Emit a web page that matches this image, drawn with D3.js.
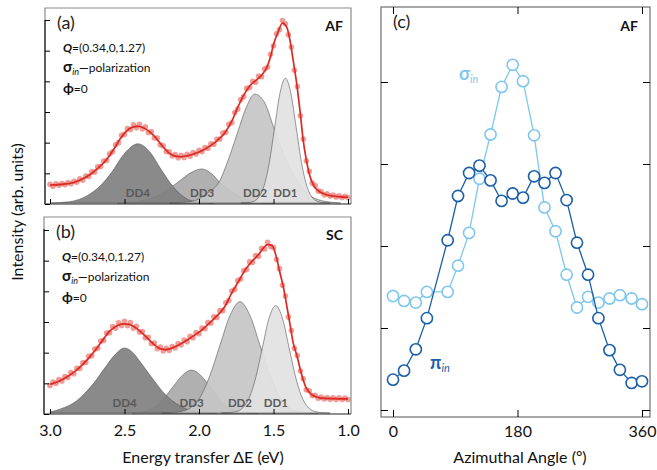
<!DOCTYPE html>
<html>
<head>
<meta charset="utf-8">
<script src="https://cdn.jsdelivr.net/npm/d3@7"></script>
<style>
  body { margin: 0; background: #fff; }
  svg { font-family: Lato, "Open Sans", sans-serif; }
</style>
</head>
<body>
<svg id="chart" width="657" height="470"></svg>
<script>
// ---- data ----
const energyTicks = [3.0, 2.5, 2.0, 1.5, 1.0];
const intensityTicks = [0, 1, 2, 3, 4, 5, 6];
const angleTicks = [0, 180, 360];
const angleYTicks = [0, 1, 2, 3, 4];

const dotEnergy = [
  3.00, 2.98, 2.96, 2.94, 2.92, 2.90, 2.88, 2.86, 2.84, 2.82,
  2.80, 2.78, 2.76, 2.74, 2.72, 2.70, 2.68, 2.66, 2.64, 2.62,
  2.60, 2.58, 2.56, 2.54, 2.52, 2.50, 2.48, 2.46, 2.44, 2.42,
  2.40, 2.38, 2.36, 2.34, 2.32, 2.30, 2.28, 2.26, 2.24, 2.22,
  2.20, 2.18, 2.16, 2.14, 2.12, 2.10, 2.08, 2.06, 2.04, 2.02,
  2.00, 1.98, 1.96, 1.94, 1.92, 1.90, 1.88, 1.86, 1.84, 1.82,
  1.80, 1.78, 1.76, 1.74, 1.72, 1.70, 1.68, 1.66, 1.64, 1.62,
  1.60, 1.58, 1.56, 1.54, 1.52, 1.50, 1.48, 1.46, 1.44, 1.42,
  1.40, 1.38, 1.36, 1.34, 1.32, 1.30, 1.28, 1.26, 1.24, 1.22,
  1.20, 1.18, 1.16, 1.14, 1.12, 1.10, 1.08, 1.06, 1.04, 1.02,
  1.00
];

// panel (a), AF
const dotsA = [
  0.64, 0.58, 0.66, 0.61, 0.67, 0.63, 0.70, 0.66, 0.74, 0.71,
  0.82, 0.78, 0.91, 0.90, 1.05, 1.04, 1.21, 1.22, 1.40, 1.42,
  1.64, 1.70, 1.93, 2.00, 2.24, 2.27, 2.46, 2.43, 2.58, 2.49,
  2.60, 2.45, 2.52, 2.33, 2.36, 2.15, 2.15, 1.93, 1.90, 1.71,
  1.70, 1.57, 1.61, 1.51, 1.59, 1.52, 1.62, 1.56, 1.68, 1.63,
  1.75, 1.71, 1.84, 1.82, 1.96, 1.95, 2.11, 2.12, 2.31, 2.34,
  2.60, 2.65, 2.98, 3.10, 3.41, 3.50, 3.77, 3.80, 4.00, 3.97,
  4.17, 4.15, 4.40, 4.46, 4.88, 5.15, 5.55, 5.68, 5.98, 5.88,
  5.52, 5.12, 4.36, 3.83, 2.88, 2.12, 1.40, 1.07, 0.68, 0.60,
  0.42, 0.41, 0.30, 0.33, 0.26, 0.29, 0.23, 0.27, 0.21, 0.25,
  0.21
];
const fitA = [
  [3.00, 0.62], [2.92, 0.64], [2.84, 0.70], [2.78, 0.82], [2.73, 0.96],
  [2.68, 1.16], [2.62, 1.45], [2.57, 1.80], [2.53, 2.12], [2.49, 2.36],
  [2.45, 2.50], [2.41, 2.53], [2.37, 2.48], [2.33, 2.35], [2.28, 2.10],
  [2.24, 1.86], [2.20, 1.66], [2.16, 1.56], [2.12, 1.54], [2.08, 1.57],
  [2.03, 1.64], [1.98, 1.74], [1.93, 1.88], [1.88, 2.06], [1.83, 2.30],
  [1.78, 2.70], [1.74, 3.15], [1.70, 3.55], [1.66, 3.85], [1.62, 4.02],
  [1.58, 4.20], [1.545, 4.45], [1.52, 4.80], [1.50, 5.20], [1.47, 5.60],
  [1.44, 5.90], [1.41, 5.75], [1.39, 5.35], [1.37, 4.75], [1.345, 3.95],
  [1.32, 2.95], [1.30, 2.05], [1.28, 1.45], [1.255, 0.90], [1.23, 0.60],
  [1.19, 0.40], [1.15, 0.31], [1.10, 0.26], [1.05, 0.23], [1.00, 0.22]
];
const dd4A = [[3.00, 0], [2.87, 0.04], [2.75, 0.24], [2.66, 0.57], [2.586, 1.00], [2.51, 1.55],
  [2.41, 1.93], [2.33, 1.66], [2.25, 1.06], [2.17, 0.51], [2.08, 0.13], [1.99, 0.02], [1.90, 0]];
const dd3A = [[2.55, 0], [2.42, 0.04], [2.31, 0.17], [2.22, 0.40], [2.13, 0.72], [2.05, 1.00],
  [1.98, 1.11], [1.915, 0.95], [1.85, 0.62], [1.76, 0.30], [1.67, 0.08], [1.58, 0.01], [1.50, 0]];
const dd2A = [[2.20, 0], [2.05, 0.05], [1.95, 0.30], [1.86, 0.73], [1.805, 1.39], [1.736, 2.37],
  [1.69, 3.03], [1.624, 3.55], [1.557, 3.25], [1.50, 2.48], [1.434, 1.61], [1.356, 0.84],
  [1.27, 0.30], [1.18, 0.08], [1.05, 0]];
const dd1A = [[1.72, 0], [1.672, 0.01], [1.636, 0.05], [1.60, 0.18], [1.564, 0.55], [1.528, 1.32],
  [1.492, 2.47], [1.456, 3.59], [1.42, 4.07], [1.384, 3.59], [1.348, 2.47], [1.312, 1.32],
  [1.276, 0.55], [1.24, 0.18], [1.204, 0.05], [1.168, 0.01], [1.12, 0]];

// panel (b), SC
const dotsB = [
  0.93, 1.04, 1.00, 1.12, 1.08, 1.22, 1.19, 1.35, 1.31, 1.49,
  1.48, 1.67, 1.68, 1.88, 1.90, 2.12, 2.14, 2.38, 2.40, 2.64,
  2.65, 2.85, 2.80, 2.97, 2.88, 3.02, 2.88, 2.98, 2.80, 2.86,
  2.67, 2.69, 2.49, 2.50, 2.30, 2.31, 2.13, 2.18, 2.06, 2.14,
  2.07, 2.20, 2.15, 2.30, 2.25, 2.41, 2.36, 2.53, 2.49, 2.66,
  2.62, 2.80, 2.78, 2.98, 2.96, 3.17, 3.15, 3.37, 3.37, 3.63,
  3.70, 4.01, 4.06, 4.35, 4.40, 4.68, 4.71, 4.96, 4.95, 5.17,
  5.14, 5.40, 5.38, 5.60, 5.46, 5.43, 5.04, 4.74, 4.20, 3.85,
  3.16, 2.72, 2.14, 1.91, 1.40, 1.15, 0.79, 0.76, 0.60, 0.61,
  0.51, 0.55, 0.49, 0.54, 0.48, 0.53, 0.47, 0.53, 0.47, 0.52,
  0.47
];
const fitB = [
  [3.00, 0.97], [2.94, 1.07], [2.89, 1.20], [2.83, 1.40], [2.78, 1.62],
  [2.73, 1.88], [2.69, 2.12], [2.64, 2.45], [2.60, 2.70], [2.55, 2.88],
  [2.51, 2.94], [2.47, 2.92], [2.44, 2.86], [2.40, 2.72], [2.36, 2.54],
  [2.31, 2.30], [2.27, 2.15], [2.23, 2.10], [2.19, 2.13], [2.14, 2.24],
  [2.09, 2.38], [2.04, 2.54], [1.99, 2.70], [1.94, 2.92], [1.88, 3.20],
  [1.83, 3.48], [1.78, 3.95], [1.74, 4.28], [1.69, 4.70], [1.65, 4.95],
  [1.60, 5.20], [1.57, 5.40], [1.54, 5.52], [1.51, 5.50], [1.48, 5.10],
  [1.46, 4.67], [1.43, 4.05], [1.41, 3.50], [1.39, 2.95], [1.37, 2.37],
  [1.34, 1.85], [1.32, 1.45], [1.30, 1.10], [1.28, 0.84], [1.25, 0.66],
  [1.22, 0.57], [1.18, 0.52], [1.10, 0.50], [1.00, 0.49]
];
const dd4B = [[3.00, 0.03], [2.93, 0.13], [2.82, 0.40], [2.71, 0.95], [2.62, 1.55], [2.56, 1.92],
  [2.50, 2.12], [2.44, 1.95], [2.40, 1.70], [2.31, 1.11], [2.22, 0.57], [2.13, 0.24],
  [2.04, 0.07], [1.95, 0.01], [1.88, 0]];
const dd3B = [[2.45, 0], [2.425, 0.015], [2.36, 0.06], [2.30, 0.19], [2.24, 0.45], [2.175, 0.85],
  [2.11, 1.235], [2.05, 1.40], [1.99, 1.235], [1.925, 0.85], [1.86, 0.45], [1.80, 0.19],
  [1.74, 0.06], [1.675, 0.015], [1.60, 0]];
const dd2B = [[2.25, 0], [2.195, 0.01], [2.13, 0.04], [2.06, 0.16], [1.995, 0.49], [1.93, 1.18],
  [1.86, 2.20], [1.79, 3.20], [1.725, 3.63], [1.66, 3.20], [1.59, 2.20], [1.52, 1.18],
  [1.455, 0.49], [1.39, 0.16], [1.32, 0.04], [1.255, 0.01], [1.20, 0]];
const dd1B = [[1.85, 0], [1.80, 0.01], [1.755, 0.04], [1.71, 0.15], [1.665, 0.47], [1.62, 1.14],
  [1.575, 2.12], [1.53, 3.09], [1.485, 3.50], [1.44, 3.09], [1.395, 2.12], [1.35, 1.14],
  [1.305, 0.47], [1.26, 0.15], [1.215, 0.04], [1.17, 0.01], [1.12, 0]];

// panel (c), azimuthal dependence
const angles = [0, 16, 33, 49, 79, 94, 110, 125, 141, 157, 173, 188, 204, 219, 235, 251, 266, 282, 297, 313, 328, 345, 360];
const piIn = [0.37, 0.48, 0.74, 1.12, 2.07, 2.61, 2.89, 2.98, 2.80, 2.55, 2.64, 2.59, 2.85, 2.77, 2.89, 2.56, 2.04, 1.65, 1.12, 0.73, 0.49, 0.33, 0.35];
const sigmaIn = [1.39, 1.33, 1.31, 1.44, 1.44, 1.76, 2.16, 2.82, 3.36, 3.94, 4.21, 4.01, 3.35, 2.47, 2.18, 1.65, 1.25, 1.38, 1.31, 1.36, 1.40, 1.36, 1.29];

// ---- drawing ----
const svg = d3.select("#chart");
const compColor = { DD4: "#808080", DD3: "#a9a9a9", DD2: "#c6c6c6", DD1: "#e2e2e2" };
const red = "#dc2a22";
const lightBlue = "#7fc7ee";
const darkBlue = "#1c5fa8";

const x = d3.scaleLinear().domain([3.0, 1.0]).range([50, 348]);

const panels = [
  { tag: "(a)", phase: "AF", left: 45, top: 8, right: 351, bottom: 204,
    y: d3.scaleLinear().domain([0, 6]).range([204, 20]),
    dots: dotsA, fit: fitA, comps: [["DD3", dd3A], ["DD4", dd4A], ["DD2", dd2A], ["DD1", dd1A]], labels: false },
  { tag: "(b)", phase: "SC", left: 44, top: 217, right: 351, bottom: 414,
    y: d3.scaleLinear().domain([0, 6]).range([414, 230]),
    dots: dotsB, fit: fitB, comps: [["DD3", dd3B], ["DD4", dd4B], ["DD2", dd2B], ["DD1", dd1B]], labels: true }
];

panels.forEach(p => {
  const g = svg.append("g");
  const y = p.y;

  const area = d3.area()
    .x(d => x(d[0]))
    .y0(y(0) - 1)
    .y1(d => y(d[1]) - 1)
    .curve(d3.curveMonotoneX);

  p.comps.forEach(([name, pts]) => {
    g.append("path")
      .datum(pts)
      .attr("d", area)
      .attr("fill", compColor[name])
      .attr("fill-opacity", 0.92)
      .attr("stroke", "#555")
      .attr("stroke-width", 0.6);
  });

  p.comps.forEach(([name, pts]) => {
    const peak = pts.reduce((a, b) => (b[1] > a[1] ? b : a));
    g.append("text")
      .attr("x", x(peak[0]))
      .attr("y", p.bottom - 7)
      .attr("text-anchor", "middle")
      .attr("font-size", 11.5)
      .attr("font-weight", "bold")
      .attr("fill", "#595959")
      .text(name);
  });

  g.selectAll("circle.dot")
    .data(dotEnergy.map((e, i) => [e, p.dots[i]]))
    .enter()
    .append("circle")
    .attr("cx", d => x(d[0]))
    .attr("cy", d => y(d[1]))
    .attr("r", 2.8)
    .attr("fill", "#e8736d")
    .attr("fill-opacity", 0.7);

  g.append("path")
    .datum(p.fit)
    .attr("d", d3.line().x(d => x(d[0])).y(d => y(d[1])).curve(d3.curveMonotoneX))
    .attr("fill", "none")
    .attr("stroke", red)
    .attr("stroke-width", 1.7);

  // frame
  g.append("path")
    .attr("d", `M${p.left},${p.bottom}V${p.top}H${p.right}V${p.bottom}`)
    .attr("fill", "none")
    .attr("stroke", "#8a8a8a")
    .attr("stroke-width", 1.2);
  g.append("path")
    .attr("d", `M${p.left},${p.top + 12}V${p.bottom}H${p.right}`)
    .attr("fill", "none")
    .attr("stroke", "#222")
    .attr("stroke-width", 1.2);

  const yAxis = g.append("g")
    .attr("transform", `translate(${p.left},0)`)
    .call(d3.axisLeft(y).tickValues(intensityTicks).tickSize(-5).tickFormat(""));
  yAxis.select(".domain").remove();

  const xAxis = g.append("g")
    .attr("transform", `translate(0,${p.bottom})`)
    .call(d3.axisBottom(x).tickValues(energyTicks).tickSize(-5).tickPadding(11)
      .tickFormat(p.labels ? d3.format(".1f") : ""));
  xAxis.select(".domain").remove();
  xAxis.selectAll("text").attr("font-size", 16).attr("fill", "#111").attr("font-family", "Lato");

  g.append("text").attr("x", p.left + 12).attr("y", p.top + 21)
    .attr("font-size", 18).attr("fill", "#222").text(p.tag);
  g.append("text").attr("x", p.right - 8).attr("y", p.top + 23)
    .attr("text-anchor", "end").attr("font-size", 14).attr("font-weight", "bold")
    .attr("fill", "#111").text(p.phase);

  const q = g.append("text").attr("x", p.left + 18).attr("y", p.top + 44)
    .attr("font-size", 12).attr("fill", "#111");
  q.append("tspan").attr("font-weight", "bold").attr("font-style", "italic").text("Q");
  q.append("tspan").text("=(0.34,0,1.27)");

  const s = g.append("text").attr("x", p.left + 18).attr("y", p.top + 64)
    .attr("font-size", 12).attr("fill", "#111");
  s.append("tspan").attr("font-weight", "bold").attr("font-size", 15).text("σ");
  s.append("tspan").attr("font-style", "italic").attr("font-size", 9).attr("dy", 3).text("in");
  s.append("tspan").attr("font-weight", "bold").attr("dy", -3).text("—");
  s.append("tspan").text("polarization");

  const f = g.append("text").attr("x", p.left + 18).attr("y", p.top + 85)
    .attr("font-size", 12).attr("fill", "#111");
  f.append("tspan").attr("font-weight", "bold").attr("font-size", 14).text("ϕ");
  f.append("tspan").text("=0");
});

svg.append("text")
  .attr("transform", "translate(23,212) rotate(-90)")
  .attr("text-anchor", "middle")
  .attr("font-size", 16)
  .attr("fill", "#111")
  .text("Intensity (arb. units)");

svg.append("text")
  .attr("x", 203).attr("y", 463)
  .attr("text-anchor", "middle")
  .attr("font-size", 16)
  .attr("fill", "#111")
  .text("Energy transfer ΔE (eV)");

// ---- panel (c) ----
const xc = d3.scaleLinear().domain([0, 360]).range([393, 642]);
const yc = d3.scaleLinear().domain([0, 4]).range([410, 82]);
const c = { left: 381, top: 7, right: 650, bottom: 417 };
const gc = svg.append("g");

gc.append("rect")
  .attr("x", c.left).attr("y", c.top)
  .attr("width", c.right - c.left).attr("height", c.bottom - c.top)
  .attr("fill", "none").attr("stroke", "#6e6e6e").attr("stroke-width", 1.2);

[[d3.axisLeft(yc).tickValues(angleYTicks), `translate(${c.left},0)`],
 [d3.axisRight(yc).tickValues(angleYTicks), `translate(${c.right},0)`],
 [d3.axisTop(xc).tickValues(angleTicks), `translate(0,${c.top})`]].forEach(([ax, tr]) => {
  const a = gc.append("g").attr("transform", tr).call(ax.tickSize(-7).tickFormat(""));
  a.select(".domain").remove();
});
const cx = gc.append("g").attr("transform", `translate(0,${c.bottom})`)
  .call(d3.axisBottom(xc).tickValues(angleTicks).tickSize(-7).tickPadding(9));
cx.select(".domain").remove();
cx.selectAll("text").attr("font-size", 16).attr("fill", "#111").attr("font-family", "Lato");

const lineC = d3.line().x(d => xc(d[0])).y(d => yc(d[1]));
[[sigmaIn, lightBlue], [piIn, darkBlue]].forEach(([vals, col]) => {
  const pts = angles.map((a, i) => [a, vals[i]]);
  gc.append("path").datum(pts).attr("d", lineC)
    .attr("fill", "none").attr("stroke", col).attr("stroke-width", 1.3);
  gc.selectAll(null).data(pts).enter().append("circle")
    .attr("cx", d => xc(d[0])).attr("cy", d => yc(d[1])).attr("r", 5.6)
    .attr("fill", "#fff").attr("stroke", col).attr("stroke-width", 1.6);
});

gc.append("text").attr("x", 393).attr("y", 28).attr("font-size", 18).attr("fill", "#222").text("(c)");
gc.append("text").attr("x", 638).attr("y", 31).attr("text-anchor", "end")
  .attr("font-size", 14).attr("font-weight", "bold").attr("fill", "#111").text("AF");

const sl = gc.append("text").attr("x", 459).attr("y", 80).attr("fill", lightBlue);
sl.append("tspan").attr("font-weight", "bold").attr("font-size", 18).text("σ");
sl.append("tspan").attr("font-style", "italic").attr("font-size", 11).attr("dy", 3).text("in");

const pl = gc.append("text").attr("x", 430).attr("y", 369).attr("fill", darkBlue);
pl.append("tspan").attr("font-weight", "bold").attr("font-size", 18).text("π");
pl.append("tspan").attr("font-style", "italic").attr("font-size", 11).attr("dy", 3).text("in");

svg.append("text")
  .attr("x", 520).attr("y", 463)
  .attr("text-anchor", "middle")
  .attr("font-size", 16)
  .attr("fill", "#111")
  .text("Azimuthal Angle (º)");
</script>
</body>
</html>
